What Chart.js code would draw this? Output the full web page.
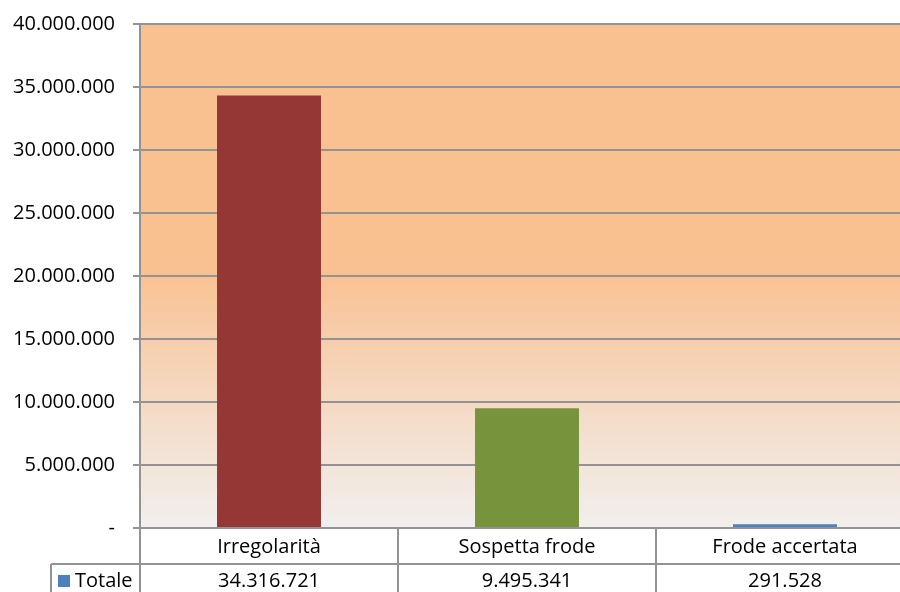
<!DOCTYPE html>
<html><head><meta charset="utf-8">
<script src="https://cdn.jsdelivr.net/npm/chart.js@4/dist/chart.umd.min.js"></script>
<style>html,body{margin:0;padding:0;overflow:hidden;background:#fff}canvas{display:block}</style>
</head><body>
<canvas id="c" width="914" height="592"></canvas>
<script>
const categories = ["Irregolarità", "Sospetta frode", "Frode accertata"];
const seriesName = "Totale";
const values = [34316721, 9495341, 291528];
const barColors = ["#953735", "#77933C", "#4F81BD"];
const legendColor = "#4F81BD";
const yMax = 40000000;
const yStep = 5000000;

const FONT = "'Open Sans', sans-serif";
const GRID = "#939393";
function fmt(v){ if (v === 0) return "-"; return String(Math.round(v)).replace(/\B(?=(\d{3})+(?!\d))/g, "."); }

const bgPlugin = {
  id: 'bg',
  beforeDraw(chart){
    const {ctx, chartArea:a} = chart;
    const g = ctx.createLinearGradient(0, a.top, 0, a.bottom);
    g.addColorStop(0, "#F9C090");
    g.addColorStop(0.48, "#F9C090");
    g.addColorStop(0.74, "#F5D9C2");
    g.addColorStop(1, "#F1EFEE");
    ctx.save(); ctx.fillStyle = g; ctx.fillRect(a.left, a.top, a.right - a.left, a.bottom - a.top); ctx.restore();
  }
};

const tablePlugin = {
  id: 'table',
  afterDraw(chart){
    const {ctx, chartArea:a, scales:{x}} = chart;
    const row1 = a.bottom, row2 = a.bottom + 36, rowEnd = chart.height + 2;
    const n = categories.length;
    const half = (x.getPixelForValue(1) - x.getPixelForValue(0)) / 2;
    ctx.save();
    ctx.strokeStyle = GRID; ctx.lineWidth = 2;
    ctx.beginPath();
    ctx.moveTo(a.left, row1); ctx.lineTo(a.left, rowEnd);
    for (let i = 0; i < n; i++) { const xb = x.getPixelForValue(i) + half; ctx.moveTo(xb, row1); ctx.lineTo(xb, rowEnd); }
    ctx.moveTo(51, row2); ctx.lineTo(chart.width, row2);
    ctx.moveTo(51, row2); ctx.lineTo(51, rowEnd);
    ctx.stroke();
    ctx.fillStyle = "#000"; ctx.font = "20px " + FONT; ctx.textAlign = "center"; ctx.textBaseline = "middle";
    for (let i = 0; i < n; i++) {
      const cx = x.getPixelForValue(i);
      ctx.fillText(categories[i], cx, (row1 + row2) / 2 + 1);
      ctx.fillText(fmt(values[i]), cx, row2 + 17);
    }
    ctx.fillStyle = legendColor; ctx.fillRect(58, row2 + 11, 12, 12);
    ctx.fillStyle = "#000"; ctx.textAlign = "left";
    ctx.fillText(seriesName, 75, row2 + 17);
    ctx.restore();
  }
};

new Chart(document.getElementById('c'), {
  type: 'bar',
  data: { labels: categories, datasets: [{ label: seriesName, data: values, backgroundColor: barColors, borderWidth: 0, categoryPercentage: 1, barPercentage: 0.403 }] },
  options: {
    responsive: false, animation: false, devicePixelRatio: 1,
    layout: { padding: { top: 24, bottom: 64, left: 0, right: 0 } },
    plugins: { legend: { display: false }, tooltip: { enabled: false } },
    scales: {
      x: { display: false, offset: true, grid: { display: false } },
      y: {
        min: 0, max: yMax,
        afterFit(s){ s.width = 140; s.paddingTop = 0; s.paddingBottom = 0; },
        ticks: { stepSize: yStep, callback: v => fmt(v), color: "#000", font: { family: FONT, size: 20 }, padding: 18 },
        grid: { color: GRID, lineWidth: 2, tickLength: 7, drawTicks: true },
        border: { color: GRID, width: 2 }
      }
    }
  },
  plugins: [bgPlugin, tablePlugin]
});
</script>
</body></html>
